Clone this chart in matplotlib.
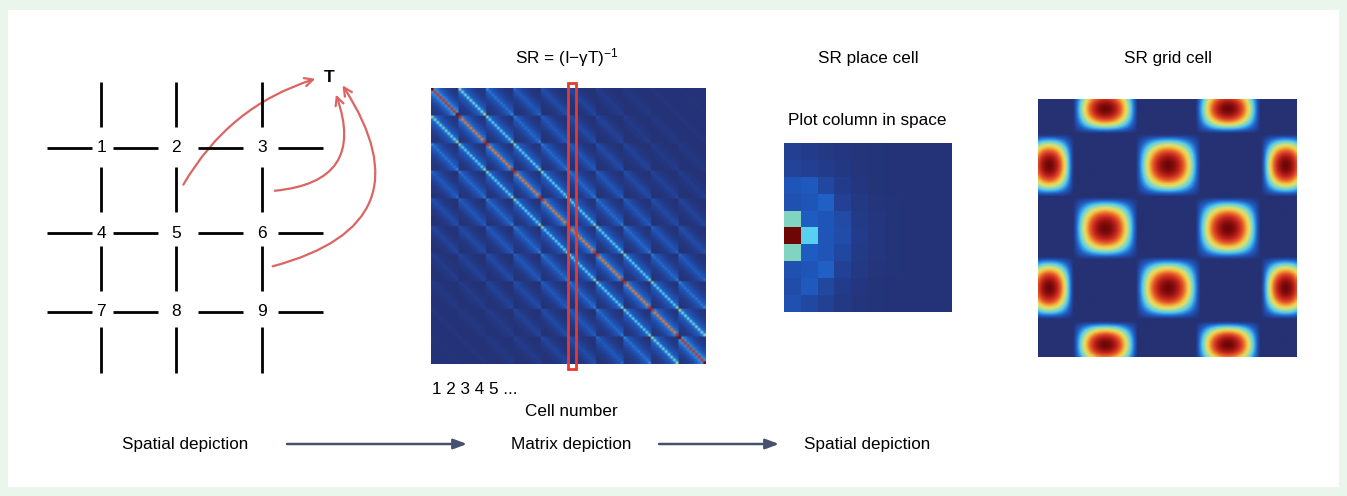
import numpy as np
import matplotlib.pyplot as plt
from matplotlib.colors import LinearSegmentedColormap
from matplotlib.patches import Rectangle, FancyArrowPatch

plt.rcParams['font.family'] = ['Liberation Sans', 'DejaVu Sans']
plt.rcParams['mathtext.fontset'] = 'custom'
plt.rcParams['mathtext.rm'] = 'Liberation Sans'
plt.rcParams['mathtext.it'] = 'Liberation Sans:italic'

W, H = 1347, 496

# ---- data ----
maze_labels = [['1', '2', '3'], ['4', '5', '6'], ['7', '8', '9']]
target_label = 'T'

# SR strength by |row difference| (rows of list) and |column difference| (columns)
# between two states of the 10x10 arena
sr_profile = [
    [0.78, 0.30, 0.25, 0.20, 0.15, 0.11, 0.08, 0.06, 0.04, 0.03],
    [0.44, 0.26, 0.21, 0.17, 0.13, 0.09, 0.07, 0.05, 0.04, 0.03],
    [0.28, 0.22, 0.18, 0.14, 0.10, 0.08, 0.06, 0.04, 0.03, 0.02],
    [0.23, 0.18, 0.15, 0.11, 0.08, 0.06, 0.04, 0.03, 0.02, 0.02],
    [0.17, 0.14, 0.11, 0.08, 0.06, 0.04, 0.03, 0.02, 0.02, 0.02],
    [0.13, 0.11, 0.08, 0.06, 0.04, 0.03, 0.02, 0.02, 0.02, 0.02],
    [0.09, 0.07, 0.05, 0.04, 0.03, 0.02, 0.02, 0.02, 0.02, 0.02],
    [0.06, 0.05, 0.04, 0.03, 0.02, 0.02, 0.02, 0.02, 0.02, 0.02],
    [0.04, 0.03, 0.02, 0.02, 0.02, 0.02, 0.02, 0.02, 0.02, 0.02],
    [0.03, 0.02, 0.02, 0.02, 0.02, 0.02, 0.02, 0.02, 0.02, 0.02],
]
edge_gain = 1.06
highlight_col = 50

place_cell = [
    [0.11, 0.09, 0.07, 0.05, 0.04, 0.03, 0.02, 0.02, 0.02, 0.02],
    [0.13, 0.11, 0.09, 0.06, 0.04, 0.03, 0.02, 0.02, 0.02, 0.02],
    [0.22, 0.24, 0.15, 0.09, 0.05, 0.03, 0.02, 0.02, 0.02, 0.02],
    [0.20, 0.22, 0.26, 0.12, 0.07, 0.04, 0.03, 0.02, 0.02, 0.02],
    [0.50, 0.25, 0.22, 0.17, 0.08, 0.05, 0.03, 0.02, 0.02, 0.02],
    [1.00, 0.45, 0.22, 0.18, 0.09, 0.05, 0.03, 0.02, 0.02, 0.02],
    [0.50, 0.25, 0.22, 0.16, 0.08, 0.05, 0.03, 0.02, 0.02, 0.02],
    [0.20, 0.22, 0.26, 0.12, 0.07, 0.04, 0.03, 0.02, 0.02, 0.02],
    [0.18, 0.24, 0.15, 0.09, 0.05, 0.03, 0.02, 0.02, 0.02, 0.02],
    [0.20, 0.16, 0.12, 0.07, 0.04, 0.03, 0.02, 0.02, 0.02, 0.02],
]

# grid cell firing fields (fraction of arena): centres and half widths
grid_field_x = [0.259, 0.735, 0.04, 0.503, 0.96, 0.259, 0.735, 0.04, 0.503, 0.96, 0.259, 0.735]
grid_field_y = [0.035, 0.035, 0.256, 0.256, 0.256, 0.501, 0.501, 0.734, 0.734, 0.734, 0.955, 0.955]
grid_field_wx = [0.125, 0.125, 0.095, 0.125, 0.095, 0.125, 0.125, 0.095, 0.125, 0.095, 0.125, 0.125]
grid_field_wy = [0.095, 0.095, 0.12, 0.12, 0.12, 0.12, 0.12, 0.12, 0.12, 0.12, 0.09, 0.09]

# ---- build images ----
prof = np.array(sr_profile)
n = 10
rr, cc = np.divmod(np.arange(n * n), n)
on_edge = (rr == 0).astype(int) + (rr == n - 1) + (cc == 0) + (cc == n - 1)
sr = prof[np.abs(rr[:, None] - rr[None, :]), np.abs(cc[:, None] - cc[None, :])]
sr = sr * edge_gain ** on_edge[:, None] * edge_gain ** on_edge[None, :]
sr = np.clip(sr, 0, 1)

gx, gy = np.meshgrid(np.linspace(0, 1, 160), np.linspace(0, 1, 160))
grid_img = np.zeros_like(gx)
for x0, y0, wx, wy in zip(grid_field_x, grid_field_y, grid_field_wx, grid_field_wy):
    tx = np.clip(np.abs(gx - x0) / wx, 0, 1)
    ty = np.clip(np.abs(gy - y0) / wy, 0, 1)
    field = (np.cos(np.pi / 2 * tx) * np.cos(np.pi / 2 * ty)) ** 0.7
    grid_img = np.maximum(grid_img, field)

cmap = LinearSegmentedColormap.from_list('srjet', [
    (0.00, '#253172'), (0.10, '#233d8e'), (0.25, '#1f5cc2'), (0.38, '#3aa0e6'),
    (0.45, '#58d0f0'), (0.52, '#8fd6b2'), (0.62, '#dde270'), (0.70, '#f4c040'),
    (0.80, '#e8602a'), (0.90, '#c0221c'), (1.00, '#6e0606')])


def box(x0, y0, x1, y1):
    return [x0 / W, 1 - y1 / H, (x1 - x0) / W, (y1 - y0) / H]


fig = plt.figure(figsize=(W / 100, H / 100), dpi=100, facecolor='#eaf5ec')
ax = fig.add_axes([0, 0, 1, 1])
ax.set_xlim(0, W)
ax.set_ylim(H, 0)
ax.axis('off')
ax.add_patch(Rectangle((8, 10), 1331, 477, facecolor='white', edgecolor='none'))

# maze
cols = [101, 176, 262]
rows = [148, 233, 312]
vsegs = [(82, 127), (167, 212), (246, 291), (327, 373)]
hsegs = [(47, 92), (113, 158), (198, 243), (278, 323)]
for x in cols:
    for a, b in vsegs:
        ax.plot([x, x], [a, b], color='black', lw=2.0, solid_capstyle='butt')
for y in rows:
    for a, b in hsegs:
        ax.plot([a, b], [y, y], color='black', lw=2.0, solid_capstyle='butt')
for i, y in enumerate(rows):
    for j, x in enumerate(cols):
        ax.text(x, y, maze_labels[i][j], ha='center', va='center', fontsize=12.5)
ax.text(329, 77, target_label, ha='center', va='center', fontsize=12.5, fontweight='bold')

red = '#dc6462'
for start, end, rad in [((182, 187), (318, 78), -0.2),
                        ((272, 191), (335, 92), 0.66),
                        ((270, 267), (341, 83), 0.7)]:
    ax.add_patch(FancyArrowPatch(start, end, connectionstyle=f'arc3,rad={rad}',
                                 arrowstyle='->,head_length=6,head_width=3',
                                 color=red, lw=1.6, mutation_scale=1))

# SR matrix
axm = fig.add_axes(box(431, 88, 706, 364))
axm.imshow(sr, cmap=cmap, vmin=0, vmax=1, extent=(0, 100, 100, 0), aspect='auto')
axm.axis('off')
axm.add_patch(Rectangle((highlight_col - 0.1, -1.9), 2.8, 103.8, fill=False,
                        edgecolor='#e8392e', lw=2, clip_on=False))

# place cell
axp = fig.add_axes(box(784, 143, 952, 312))
axp.imshow(np.array(place_cell), cmap=cmap, vmin=0, vmax=1, aspect='auto')
axp.axis('off')

# grid cell
axg = fig.add_axes(box(1038, 99, 1297, 357))
axg.imshow(grid_img, cmap=cmap, vmin=0, vmax=1, aspect='auto', interpolation='bilinear')
axg.axis('off')

# texts
fs = 12.3
ax.text(567, 58, r'SR = (I−γT)$^{-1}$', ha='center', va='center', fontsize=fs)
ax.text(868, 58, 'SR place cell', ha='center', va='center', fontsize=fs)
ax.text(867, 121, 'Plot column in space', ha='center', va='center', fontsize=fs)
ax.text(1168, 58, 'SR grid cell', ha='center', va='center', fontsize=fs)
ax.text(432, 389, '1 2 3 4 5 ...', ha='left', va='center', fontsize=fs)
ax.text(571, 411, 'Cell number', ha='center', va='center', fontsize=fs)
ax.text(185, 445, 'Spatial depiction', ha='center', va='center', fontsize=fs)
ax.text(571, 445, 'Matrix depiction', ha='center', va='center', fontsize=fs)
ax.text(867, 445, 'Spatial depiction', ha='center', va='center', fontsize=fs)

for x0, x1 in [(287, 467), (659, 779)]:
    ax.annotate('', xy=(x1, 444), xytext=(x0, 444),
                arrowprops=dict(arrowstyle='-|>,head_length=0.8,head_width=0.3',
                                color='#46516e', lw=1.8, shrinkA=0, shrinkB=0))

fig.savefig('out.png', dpi=100, facecolor=fig.get_facecolor())
